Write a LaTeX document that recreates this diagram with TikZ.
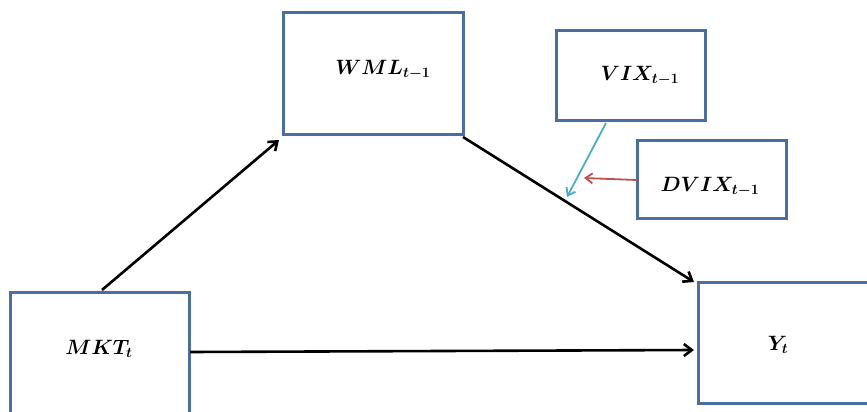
\documentclass[tikz,border=0pt]{standalone}
\usepackage{amsmath,bm}
\usetikzlibrary{arrows.meta}
\definecolor{boxblue}{HTML}{4A6E9E}
\definecolor{linkblue}{HTML}{4BACC6}
\definecolor{linkred}{HTML}{C0504D}
\tikzset{
  var/.style={draw=boxblue, line width=3pt, fill=white},
  lbl/.style={font=\fontsize{21}{24}\selectfont},
  path/.style={line width=2.6pt, -{Straight Barb[length=8pt,width=12pt]}},
  modpath/.style={line width=1.8pt, -{Straight Barb[length=7pt,width=10pt]}},
}
\begin{document}
\begin{tikzpicture}[x=1pt,y=-1pt]
  \useasboundingbox (0,0) rectangle (867,412);
  \clip (0,0) rectangle (867,412);
  % variable boxes
  \draw[var] (283,13) rectangle (463,134);
  \draw[var] (556,31) rectangle (705,120);
  \draw[var] (637,140) rectangle (786,218);
  \draw[var] (10,292) rectangle (189,420);
  \draw[var] (698,282) rectangle (872,403);
  \node[lbl] (wml) at (383,70) {$\bm{WML_{t-1}}$};
  \node[lbl] (vix) at (640,76) {$\bm{VIX_{t-1}}$};
  \node[lbl] (dvix) at (710,187) {$\bm{DVIX_{t-1}}$};
  \node[lbl] (mkt) at (99,349) {$\bm{MKT_{t}}$};
  \node[lbl] (y) at (778,345) {$\bm{Y_{t}}$};
  % anchor points on box edges
  \coordinate (mktTop) at (102,290);
  \coordinate (wmlIn) at (279,140);
  \coordinate (wmlOut) at (463,137);
  \coordinate (yIn) at (694,282);
  \coordinate (mktR) at (190,352);
  \coordinate (yL) at (694,350);
  \coordinate (vixOut) at (606,123);
  \coordinate (modPt) at (567,197);
  \coordinate (dvixOut) at (637,180);
  \coordinate (modPt2) at (584,178);
  % paths
  \draw[path] (mktTop) -- (wmlIn);
  \draw[path] (wmlOut) -- (yIn);
  \draw[path] (mktR) -- (yL);
  \draw[modpath, linkblue] (vixOut) -- (modPt);
  \draw[modpath, linkred] (dvixOut) -- (modPt2);
\end{tikzpicture}
\end{document}
